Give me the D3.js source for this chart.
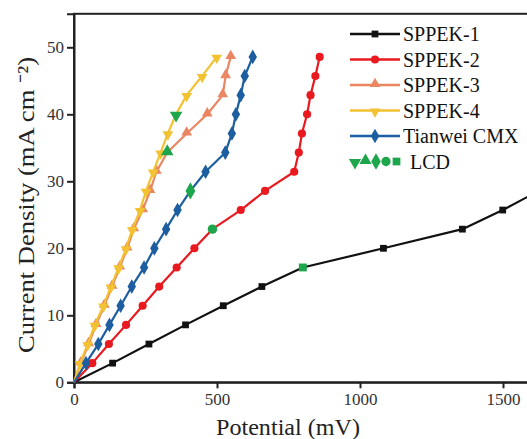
<!DOCTYPE html>
<html>
<head>
<meta charset="utf-8">
<script src="https://cdn.jsdelivr.net/npm/d3@7"></script>
<style>
  html, body { margin: 0; padding: 0; background: #fff; overflow: hidden; }
  svg { display: block; }
</style>
</head>
<body>
<script>
// Current density levels shared by every polarisation curve (mA cm^-2)
const currentLevels = [0, 2.86, 5.71, 8.57, 11.43, 14.29, 17.14, 20.00, 22.86, 25.71,
                       28.57, 31.43, 34.29, 37.14, 40.00, 42.86, 45.71, 48.57];

// Potential (mV) needed for each current level
const sppek1Potential = [0, 135, 262, 390, 522, 657, 800, 1082, 1358, 1499, 1625];
const sppek2Potential = [0, 64, 122, 182, 240, 298, 359, 421, 484, 583, 668, 770, 786, 797, 815, 827, 844, 859];
const sppek3Potential = [0, 24, 51, 77, 106, 133, 160, 186, 209, 240, 266, 288, 326, 394, 466, 520, 530, 548];
const sppek4Potential = [0, 21, 48, 73, 103, 129, 156, 182, 204, 231, 252, 277, 303, 328, 357, 394, 448, 499];
const cmxPotential    = [0, 42, 85, 124, 163, 202, 245, 281, 322, 362, 407, 460, 529, 552, 566, 583, 597, 625];

const seriesNames  = ["SPPEK-1", "SPPEK-2", "SPPEK-3", "SPPEK-4", "Tianwei CMX"];
const seriesColors = ["#111111", "#e8191f", "#ea8662", "#f2c232", "#1c5e9f"];
const seriesSymbols = ["square", "circle", "triangleUp", "triangleDown", "diamond"];
// index of the limiting current density point on each curve
const lcdIndex = [6, 8, 12, 14, 10];
const lcdColor = "#1ea64c";

const xTicks = [0, 500, 1000, 1500];
const yTicks = [0, 10, 20, 30, 40, 50];

const FONT = "Liberation Serif, Times New Roman, serif";

const potentials = [sppek1Potential, sppek2Potential, sppek3Potential, sppek4Potential, cmxPotential];
const series = seriesNames.map((name, i) => ({
  name, color: seriesColors[i], symbol: seriesSymbols[i], lcd: lcdIndex[i],
  points: potentials[i].map((p, j) => ({ x: p, y: currentLevels[j] }))
}));

const W = 527, H = 439;
const svg = d3.select("body").append("svg").attr("width", W).attr("height", H)
  .attr("font-family", FONT);

const x = d3.scaleLinear().domain([0, 1800]).range([74, 588.8]);
const y = d3.scaleLinear().domain([0, 55]).range([382.3, 13.8]);

// marker shapes
const symbolTypes = {
  square: d3.symbolSquare, circle: d3.symbolCircle, triangleUp: d3.symbolTriangle,
  triangleDown: d3.symbolTriangle, diamond: d3.symbolDiamond
};
const symbolSizes = { square: 46, circle: 52, triangleUp: 50, triangleDown: 50, diamond: 62 };
const markerPath = (sym, scale = 1) => d3.symbol().type(symbolTypes[sym]).size(symbolSizes[sym] * scale)();
function markerTransform(sym, px, py) {
  if (sym === "triangleDown") return `translate(${px},${py + 1}) rotate(180)`;
  if (sym === "triangleUp") return `translate(${px},${py - 1})`;
  return `translate(${px},${py})`;
}

// plot frame (right side runs past the visible area)
svg.append("rect")
  .attr("x", x(0)).attr("y", y(55))
  .attr("width", 700).attr("height", y(0) - y(55))
  .attr("fill", "none").attr("stroke", "#222").attr("stroke-width", 2);

// axes
const xAxis = svg.append("g").attr("transform", `translate(0,${y(0)})`)
  .call(d3.axisBottom(x).tickValues(xTicks).tickSize(6).tickPadding(5).tickFormat(d3.format("d")));
const yAxis = svg.append("g").attr("transform", `translate(${x(0)},0)`)
  .call(d3.axisLeft(y).tickValues(yTicks).tickSize(7).tickPadding(3).tickFormat(d3.format("d")));
[xAxis, yAxis].forEach(g => {
  g.attr("font-family", FONT);
  g.select(".domain").attr("stroke", "#222").attr("stroke-width", 2);
  g.selectAll(".tick line").attr("stroke", "#222").attr("stroke-width", 2);
  g.selectAll(".tick text").attr("font-size", 17).attr("fill", "#333");
});

// curves
const line = d3.line().x(d => x(d.x)).y(d => y(d.y));
const curves = svg.append("g");
series.forEach(s => {
  const g = curves.append("g");
  g.append("path").datum(s.points).attr("d", line)
    .attr("fill", "none").attr("stroke", s.color).attr("stroke-width", 2.2)
    .attr("stroke-linejoin", "round");
  g.selectAll("path.mk").data(s.points.slice(1)).join("path").attr("class", "mk")
    .attr("d", markerPath(s.symbol))
    .attr("transform", d => markerTransform(s.symbol, x(d.x), y(d.y)))
    .attr("fill", s.color);
});
// limiting current density points, drawn on top in green
series.forEach(s => {
  const d = s.points[s.lcd];
  svg.append("path").attr("d", markerPath(s.symbol, 1.35))
    .attr("transform", markerTransform(s.symbol, x(d.x), y(d.y)))
    .attr("fill", lcdColor);
});

// legend
const legend = svg.append("g");
const rowY = [34, 59.5, 85, 110.5, 136];
series.forEach((s, i) => {
  const gy = rowY[i];
  legend.append("line").attr("x1", 350).attr("x2", 400).attr("y1", gy).attr("y2", gy)
    .attr("stroke", s.color).attr("stroke-width", 2.4);
  legend.append("path").attr("d", markerPath(s.symbol))
    .attr("transform", markerTransform(s.symbol, 375, gy)).attr("fill", s.color);
  legend.append("text").attr("x", 403).attr("y", gy + 7)
    .attr("font-size", 20).attr("fill", "#111").text(s.name);
});
const lcdRowY = 161.5;
const lcdXs = [355, 365.5, 376, 386, 396.5];
["triangleDown", "triangleUp", "diamond", "circle", "square"].forEach((sym, i) => {
  legend.append("path").attr("d", markerPath(sym, 1.3))
    .attr("transform", markerTransform(sym, lcdXs[i], lcdRowY)).attr("fill", lcdColor);
});
legend.append("text").attr("x", 410).attr("y", lcdRowY + 7)
  .attr("font-size", 20).attr("fill", "#111").text("LCD");

// axis titles
svg.append("text").attr("x", 288).attr("y", 435).attr("text-anchor", "middle")
  .attr("font-size", 23).attr("fill", "#222")
  .attr("textLength", 144).attr("lengthAdjust", "spacingAndGlyphs")
  .text("Potential (mV)");

svg.append("text")
  .attr("transform", "translate(34,205) rotate(-90)")
  .attr("text-anchor", "middle").attr("font-size", 23).attr("fill", "#222")
  .attr("textLength", 296).attr("lengthAdjust", "spacingAndGlyphs")
  .text("Current Density (mA cm \u207B\u00B2)");
</script>
</body>
</html>
